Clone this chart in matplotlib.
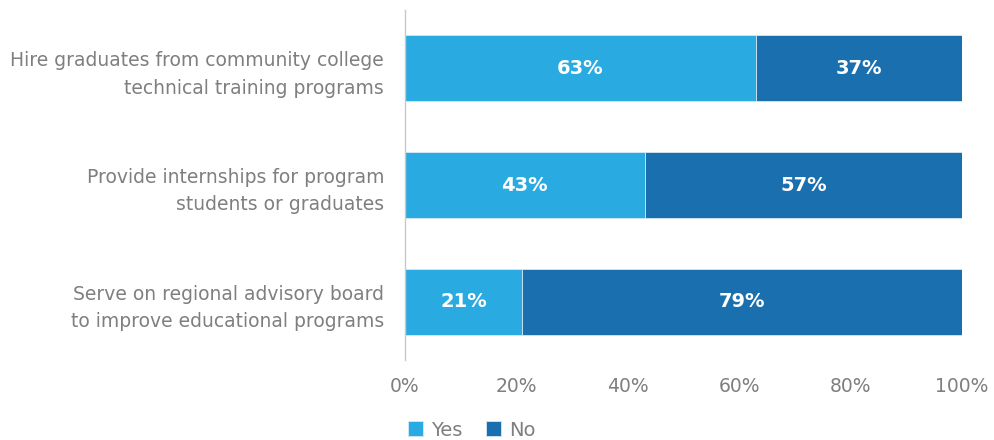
import matplotlib
import matplotlib.pyplot as plt
import numpy as np

matplotlib.use("Agg")

CATEGORIES = [
    "Hire graduates from community college\ntechnical training programs",
    "Provide internships for program\nstudents or graduates",
    "Serve on regional advisory board\nto improve educational programs",
]
YES = [63, 43, 21]
NO = [37, 57, 79]
XTICKS = [0, 20, 40, 60, 80, 100]

YES_COLOR = "#29abe2"
NO_COLOR = "#1a6fae"
TEXT_COLOR = "#7f7f7f"

plt.rcParams["font.family"] = ["DejaVu Sans"]

fig = plt.figure(figsize=(9.94, 4.4), dpi=100)
ax = fig.add_axes([405 / 994, 1 - 360 / 440, (962 - 405) / 994, 350 / 440])

y = np.arange(len(CATEGORIES))
h = 0.565
bars_yes = ax.barh(y, YES, height=h, color=YES_COLOR, edgecolor="#d6e9f5", linewidth=0.6, label="Yes")
bars_no = ax.barh(y, NO, left=YES, height=h, color=NO_COLOR, edgecolor="#d6e9f5", linewidth=0.6, label="No")

for bars, vals, lefts in ((bars_yes, YES, [0] * 3), (bars_no, NO, YES)):
    for yi, v, l in zip(y, vals, lefts):
        ax.text(l + v / 2, yi, f"{v}%", ha="center", va="center",
                color="white", fontsize=14, fontweight="bold")

ax.set_ylim(2.5, -0.5)
ax.set_xlim(0, 100)
ax.set_yticks(y)
ax.set_yticklabels(CATEGORIES, fontsize=13.5, color=TEXT_COLOR, linespacing=1.55)
ax.set_xticks(XTICKS)
ax.set_xticklabels([f"{t}%" for t in XTICKS], fontsize=13.5, color=TEXT_COLOR)
ax.tick_params(axis="both", length=0)
ax.tick_params(axis="y", pad=15)
ax.tick_params(axis="x", pad=12)

for side in ("top", "right", "bottom"):
    ax.spines[side].set_visible(False)
ax.spines["left"].set_color("#c8c8c8")
ax.spines["left"].set_linewidth(1.0)

fig.legend(handles=[bars_yes, bars_no], labels=["Yes", "No"],
           loc="center left", bbox_to_anchor=(390 / 994, 1 - 430 / 440),
           ncol=2, frameon=False, fontsize=14, handlelength=0.8,
           handleheight=0.8, handletextpad=0.4, columnspacing=1.2,
           labelcolor=TEXT_COLOR)

fig.savefig("out.png", dpi=100)
